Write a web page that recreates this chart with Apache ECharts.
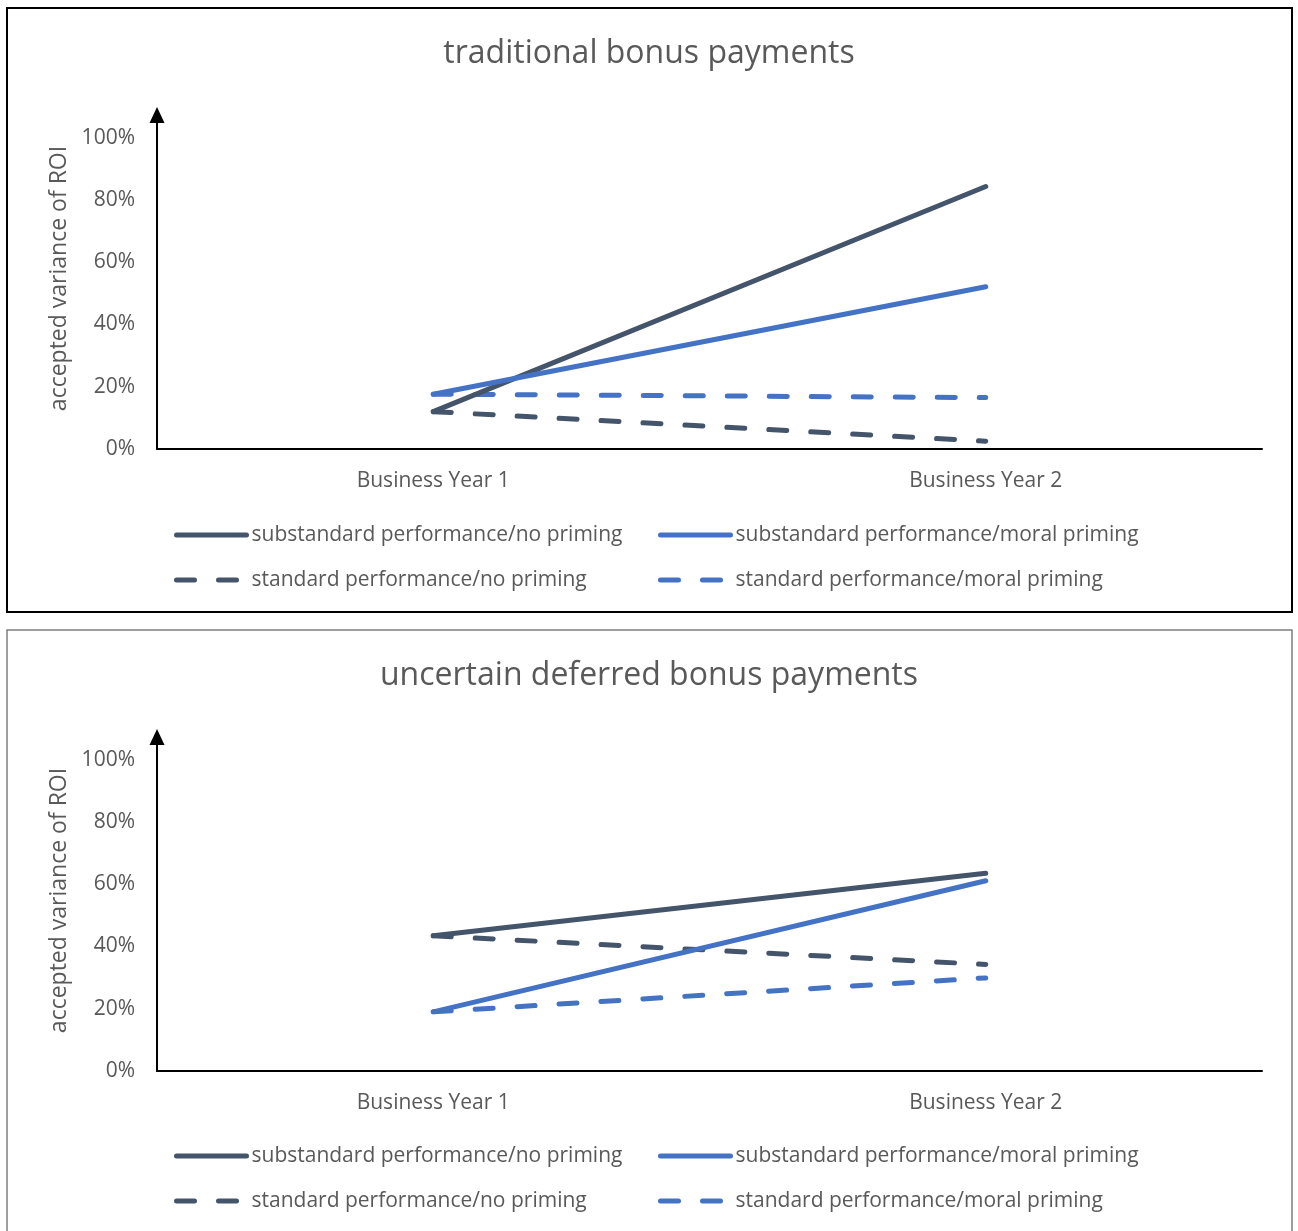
<!DOCTYPE html>
<html>
<head>
<meta charset="utf-8">
<script src="https://cdn.jsdelivr.net/npm/echarts@6/dist/echarts.min.js"></script>
<style>
  html, body { margin: 0; padding: 0; background: #fff; }
  #main { width: 1298px; height: 1231px; }
</style>
</head>
<body>
<div id="main"></div>
<script>
// data (values in %)
const years = ['Business Year 1', 'Business Year 2'];
const seriesNames = [
  'substandard performance/no priming',
  'substandard performance/moral priming',
  'standard performance/no priming',
  'standard performance/moral priming'
];
const yTicks = [0, 20, 40, 60, 80, 100];

// traditional bonus payments
const tradSubNo = [12.0, 84.3];
const tradSubMoral = [17.6, 52.1];
const tradStdNo = [12.0, 2.5];
const tradStdMoral = [17.6, 16.5];

// uncertain deferred bonus payments
const defSubNo = [43.4, 63.5];
const defSubMoral = [19.0, 61.1];
const defStdNo = [43.4, 34.2];
const defStdMoral = [19.0, 29.9];

const titles = ['traditional bonus payments', 'uncertain deferred bonus payments'];

const DARK = '#44546A';
const BLUE = '#4472C4';
const GREY = '#595959';
const FONT = 'Open Sans';

var myChart = echarts.init(document.getElementById('main'));

function lineSeries(name, data, color, dashed, idx) {
  return {
    name: name,
    type: 'line',
    xAxisIndex: idx,
    yAxisIndex: idx,
    data: data,
    symbol: 'none',
    showSymbol: false,
    silent: true,
    lineStyle: {
      color: color,
      width: 5,
      type: dashed ? [18, 24] : 'solid',
      cap: 'round'
    },
    itemStyle: { color: color },
    z: dashed ? 2 : 3
  };
}

// two columns per chart -> one vertical legend per column
function legend(names, left, top) {
  return {
    data: names,
    orient: 'vertical',
    left: left,
    top: top,
    padding: 0,
    itemWidth: 70,
    itemHeight: 14,
    itemGap: 21,
    selectedMode: false,
    itemStyle: { opacity: 0 },
    lineStyle: { width: 5, cap: 'round' },
    textStyle: { color: GREY, fontSize: 21, fontFamily: FONT, lineHeight: 24 }
  };
}

const gridTops = [122, 744];

const option = {
  backgroundColor: '#fff',
  animation: false,
  title: titles.map((t, i) => ({
    text: t,
    left: 'center',
    top: gridTops[i] - 89,
    textStyle: { color: GREY, fontSize: 32, fontWeight: 'normal', fontFamily: FONT }
  })),
  graphic: [
    { type: 'rect', shape: { x: 7, y: 8, width: 1285, height: 604 },
      style: { fill: 'none', stroke: '#000', lineWidth: 2 }, silent: true },
    { type: 'rect', shape: { x: 7, y: 630, width: 1285, height: 640 },
      style: { fill: 'none', stroke: '#7f7f7f', lineWidth: 1.5 }, silent: true }
  ],
  legend: [
    legend([seriesNames[0], seriesNames[2]], 174, 523),
    legend([seriesNames[1], seriesNames[3]], 658, 523),
    legend([seriesNames[0], seriesNames[2]], 174, 1144),
    legend([seriesNames[1], seriesNames[3]], 658, 1144)
  ],
  grid: gridTops.map(t => ({ left: 157, right: 36, top: t, height: 327 })),
  xAxis: [0, 1].map(i => ({
    type: 'category',
    gridIndex: i,
    data: years,
    axisLine: { lineStyle: { color: '#000', width: 2 } },
    axisTick: { show: false },
    axisLabel: { color: GREY, fontSize: 21, fontFamily: FONT, margin: 22 },
    splitLine: { show: false }
  })),
  yAxis: [0, 1].map(i => ({
    type: 'value',
    gridIndex: i,
    min: 0,
    max: 105,
    interval: 20,
    name: 'accepted variance of ROI',
    nameLocation: 'middle',
    nameGap: 84,
    nameRotate: 90,
    nameTextStyle: { color: GREY, fontSize: 23, fontFamily: FONT, padding: [0, 0, 0, 14] },
    axisLine: {
      show: true,
      lineStyle: { color: '#000', width: 2 },
      symbol: ['none', 'triangle'],
      symbolSize: [15, 16],
      symbolOffset: [0, 7]
    },
    axisTick: { show: false },
    splitLine: { show: false },
    axisLabel: {
      color: GREY, fontSize: 21, fontFamily: FONT, margin: 22,
      formatter: v => yTicks.indexOf(v) >= 0 ? v + '%' : ''
    }
  })),
  series: [
    lineSeries(seriesNames[2], tradStdNo, DARK, true, 0),
    lineSeries(seriesNames[3], tradStdMoral, BLUE, true, 0),
    lineSeries(seriesNames[0], tradSubNo, DARK, false, 0),
    lineSeries(seriesNames[1], tradSubMoral, BLUE, false, 0),
    lineSeries(seriesNames[2], defStdNo, DARK, true, 1),
    lineSeries(seriesNames[3], defStdMoral, BLUE, true, 1),
    lineSeries(seriesNames[0], defSubNo, DARK, false, 1),
    lineSeries(seriesNames[1], defSubMoral, BLUE, false, 1)
  ]
};

myChart.setOption(option);
</script>
</body>
</html>
